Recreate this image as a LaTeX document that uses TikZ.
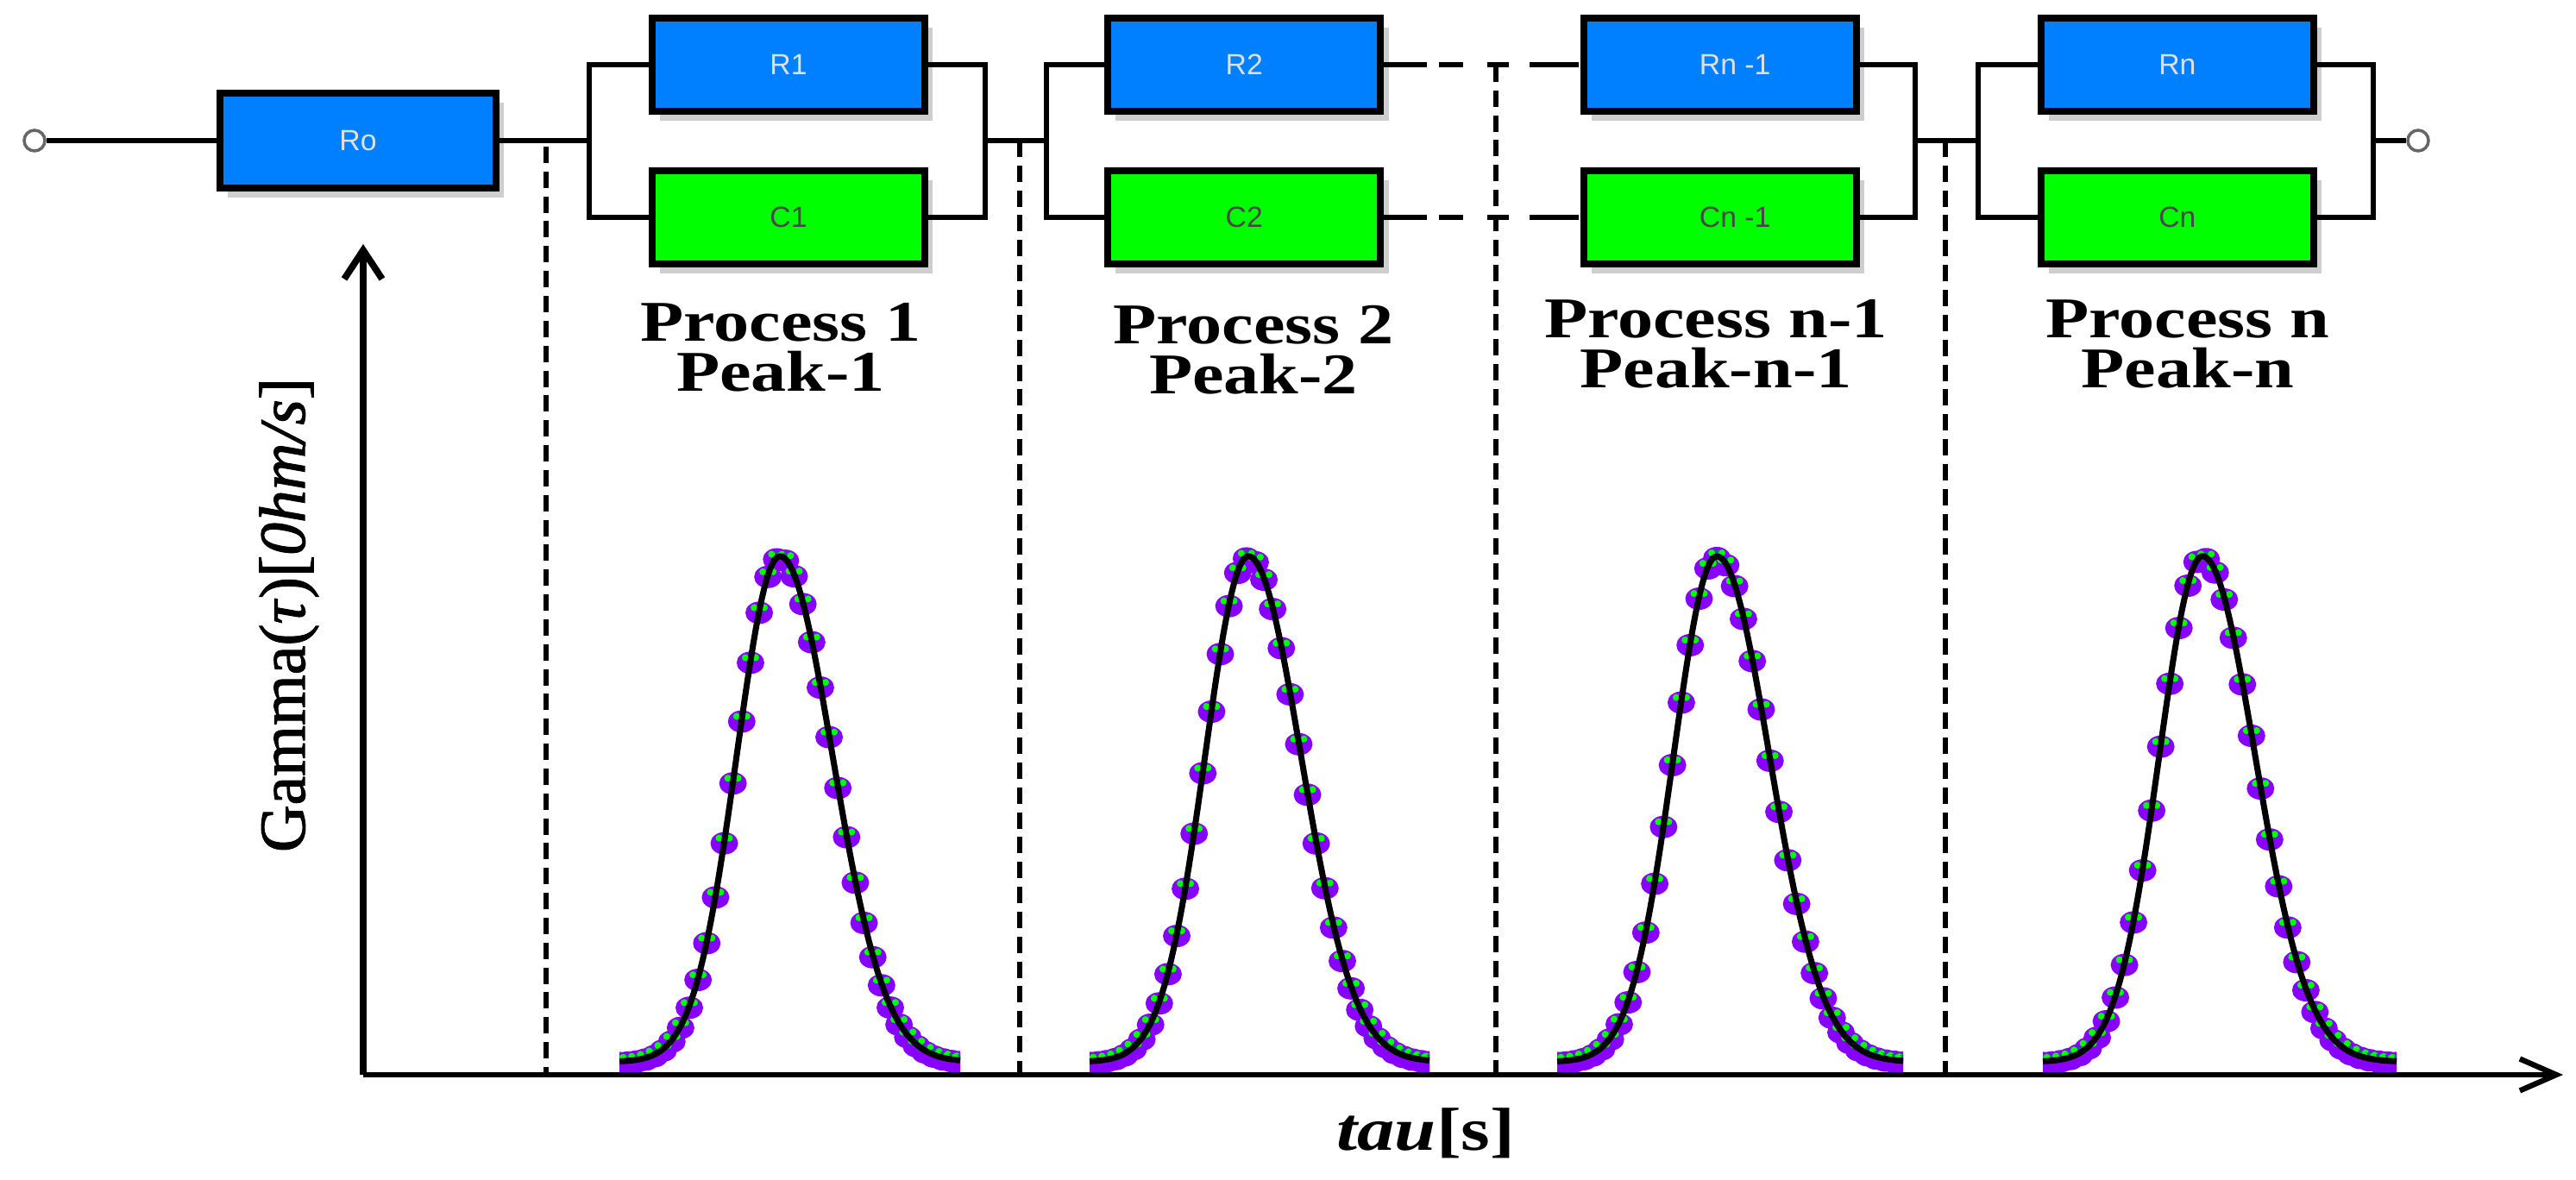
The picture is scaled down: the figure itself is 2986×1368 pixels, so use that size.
\documentclass[tikz,border=0pt]{standalone}
\usepackage{fontspec}
\setmainfont{Liberation Serif}
\newfontfamily\labelfont{Liberation Serif}[FakeStretch=1.23]
\newfontfamily\axisfont{Liberation Serif}[FakeBold=1.4]
\newfontfamily\boxfont{Liberation Sans}
\usepackage{tikz}
\usetikzlibrary{positioning, arrows.meta, shadows}
\definecolor{boxblue}{RGB}{0,128,255}
\definecolor{boxgreen}{RGB}{0,255,0}
\definecolor{dotpurple}{RGB}{136,0,255}
\definecolor{dotteal}{RGB}{0,110,120}
\tikzset{
    x=0.01cm, y=-0.01cm, % one unit is one pixel of the reference, y runs down
    declare function={gamsig(\u)=(\u<0)*50+(\u>=0)*61; gamy(\u)=1231-586*exp(-0.5*(\u/gamsig(\u))*(\u/gamsig(\u)));},
    every box/.style={draw=black, line width=2.3pt, minimum width=3.16cm, minimum height=1.08cm, inner sep=0pt,
        font=\boxfont\fontsize{9.6}{11}\selectfont, drop shadow={shadow xshift=2.6pt, shadow yshift=-3pt, fill=gray!55, opacity=0.7}},
    rbox/.style={every box, fill=boxblue, text=white!88!black},
    cbox/.style={every box, fill=boxgreen, text=black!72},
    terminal/.style={circle, draw=black!60, fill=white, line width=1pt, minimum size=0.24cm, inner sep=0pt},
    wire/.style={line width=1.6pt},
    divider/.style={line width=1.5pt, dash pattern=on 5.4pt off 2.8pt},
    gapwire/.style={wire, dash pattern=on 14pt off 4pt on 8pt off 8pt on 7pt off 7pt on 16pt},
    title/.style={font=\labelfont\bfseries\fontsize{19}{16.5}\selectfont, align=center},
    }

\begin{document}
\begin{tikzpicture}
\useasboundingbox (0,0) rectangle (2986,1368);

\node[terminal] (tl) at (40,163) {};
\node[terminal] (tr) at (2803,163) {};
\node[rbox, minimum width=3.2cm, minimum height=1.1cm] (Ro) at (415,163) {Ro};
\node[rbox] (R1) at (914,75) {R1};
\node[rbox, right of=R1, node distance=5.28cm] (R2) {R2};
\node[rbox, right of=R2, node distance=5.51cm] (Rm) {\hspace*{10pt}Rn -1};
\node[rbox, right of=Rm, node distance=5.30cm] (Rn) {Rn};
\node[cbox, below of=R1, node distance=1.77cm] (C1) {C1};
\node[cbox, below of=R2, node distance=1.77cm] (C2) {C2};
\node[cbox, below of=Rm, node distance=1.77cm] (Cm) {\hspace*{10pt}Cn -1};
\node[cbox, below of=Rn, node distance=1.77cm] (Cn) {Cn};

\coordinate (l1) at (683,163);
\coordinate (r1) at (1142,163);
\coordinate (l2) at (1213,163);
\coordinate (rm) at (2220,163);
\coordinate (ln) at (2293,163);
\coordinate (rn) at (2751,163);

% the ladder
\draw[wire] (tl) -- (Ro);
\draw[wire] (Ro) -- (l1);
\draw[wire] (R1) -| (l1) |- (C1);
\draw[wire] (R1) -| (r1) |- (C1);
\draw[wire] (r1) -- (l2);
\draw[wire] (R2) -| (l2) |- (C2);
\draw[gapwire] (R2) -- (Rm);
\draw[gapwire] (C2) -- (Cm);
\draw[wire] (Rm) -| (rm) |- (Cm);
\draw[wire] (rm) -- (ln);
\draw[wire] (Rn) -| (ln) |- (Cn);
\draw[wire] (Rn) -| (rn) |- (Cn);
\draw[wire] (rn) -- (tr);

\node[title] (p1) at (905,403) {Process 1\\Peak-1};
\node[title] (p2) at (1453,406) {Process 2\\Peak-2};
\node[title] (pm) at (1989,399) {Process n-1\\Peak-n-1};
\node[title] (pn) at (2536,399) {Process n\\Peak-n};

% axes and separators
\coordinate (o) at (421,1246);
\coordinate (ytip) at (421,283);
\coordinate (xtip) at (2971,1246);
\foreach \dx/\dtop in {633/170, 1182/163, 1734/76, 2255/163} {
    \coordinate (dt) at (\dx,\dtop);
    \coordinate (db) at (\dx,1246);
    \draw[divider] (dt) -- (db);
}

% the four peaks
\foreach \cx/\xa/\xb in {904/718/1113, 1447/1263/1657, 1990/1805/2206, 2553/2368/2778} {
    \pgfmathsetmacro{\xstep}{(\xb-\xa)/39}
    \begin{scope}
    \clip (\xa,600) rectangle (\xb,1246);
    \foreach \i in {0,...,39} {
        \pgfmathsetmacro{\mx}{\xa+\i*\xstep}
        \pgfmathsetmacro{\my}{gamy(\mx-\cx)}
        \fill[dotpurple] (\mx,\my+2) ellipse [x radius=16, y radius=13];
    }
    \foreach \i in {0,...,39} {
        \pgfmathsetmacro{\mx}{\xa+\i*\xstep}
        \pgfmathsetmacro{\my}{gamy(\mx-\cx)}
        \fill[dotteal] (\mx,\my-3) ellipse [x radius=10, y radius=4];
        \fill[boxgreen] (\mx-6,\my-4) circle [radius=4];
        \fill[boxgreen] (\mx+6,\my-4) circle [radius=4];
    }
    \end{scope}
    \draw[line width=2pt, line join=round] plot[domain=\xa:\xb, samples=90, smooth] (\x,{gamy(\x-\cx)});
}

\draw[line width=2.2pt, -{Straight Barb[length=9.5pt, width=12.5pt]}] (o) -- (ytip);
\draw[line width=1.8pt, -{Straight Barb[length=12pt, width=10.5pt]}] (o) -- (xtip);

\node[rotate=90, font=\axisfont\fontsize{21.5}{25}\selectfont] (ylab) at (335,713) {Gamma(\textit{τ})[\textit{0hm/s}]};
\node[font=\labelfont\bfseries\fontsize{20}{24}\selectfont] (xlab) at (1653,1314) {\textit{tau}[s]};
\end{tikzpicture}
\end{document}
